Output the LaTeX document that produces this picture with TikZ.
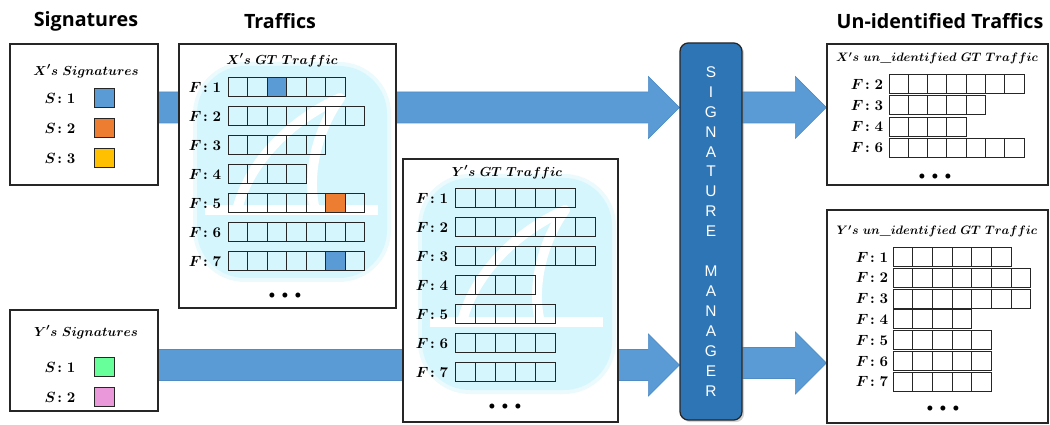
\RequirePackage{fix-cm}
\documentclass[tikz,border=0pt]{standalone}
\usepackage{amsmath,bm}
\usepackage{fontspec}
\setsansfont{Liberation Sans}
\newfontfamily\headfont{Open Sans}
\usepackage{tikz}
\usetikzlibrary{backgrounds,calc,shadows}

\definecolor{sigblue}{HTML}{5B9BD5}
\definecolor{sigorange}{HTML}{ED7D31}
\definecolor{siggold}{HTML}{FFC000}
\definecolor{siggreen}{HTML}{66FF99}
\definecolor{sigpink}{HTML}{EA98DA}
\definecolor{mgrblue}{HTML}{2E75B6}
\definecolor{flowedge}{HTML}{4F8CC6}
\definecolor{logocyan}{RGB}{214,246,253}

% fat block arrow: from node, to node, y of the shaft axis
\newcommand{\flowarrow}[3]{%
  \draw[flow] (#1.east |- 0,#3) ++(0,-15.5)
    -- ($(#2.west |- 0,#3)+(-31,-15.5)$) -- ++(0,-15.5)
    -- (#2.west |- 0,#3)
    -- ($(#2.west |- 0,#3)+(-31,31)$) -- ++(0,-15.5)
    -- ($(#1.east |- 0,#3)+(0,15.5)$) -- cycle;}

% pale shark-fin logo sitting behind a traffic table
\newcommand{\wslogo}{%
  \fill[logocyan, opacity=0.5, rounded corners=1.3cm] (418,174) rectangle (616,394);
  \fill[logocyan, rounded corners=1.2cm] (422,178) rectangle (612,390);
  \draw[fin] (565,210) .. controls (520,230) and (475,270) .. (462,322);
  \draw[fin] (565,210) .. controls (540,245) and (532,290) .. (540,322);
  \draw[fin, line width=7pt, line cap=butt] (430,322) -- (603,322);}

% three heavy dots under a table
\newcommand{\moredots}{\textbullet\kern-1.2pt\textbullet\kern-1.2pt\textbullet}

\begin{document}
\begin{tikzpicture}[x=0.025cm, y=-0.025cm,
  box/.style={draw=black!85, line width=0.9pt, fill=white},
  ttl/.style={font=\fontsize{9.3}{11}\selectfont},
  unttl/.style={font=\fontsize{8.7}{10}\selectfont},
  flab/.style={font=\fontsize{10.5}{12}\selectfont, inner sep=0pt},
  head/.style={font=\headfont\bfseries\fontsize{14}{16}\selectfont},
  cell/.style={draw=black!85, line width=0.6pt},
  sigsq/.style={draw=black!85, line width=0.6pt},
  flow/.style={fill=sigblue, draw=flowedge, line width=0.4pt},
  fin/.style={draw=white, line width=7pt, line cap=round},
  dots/.style={font=\bfseries\fontsize{12}{12}\selectfont}]

\useasboundingbox (0,0) rectangle (1050,425);

% column headings
\node[head] (hsig) at (86,21) {Signatures};
\node[head] (htr)  at (280,21) {Traffics};
\node[head] (hun)  at (940,21) {Un-identified Traffics};

% frames
\node[box, minimum width=3.7cm, minimum height=3.525cm] (xsig) at (84,114.5) {};
\node[box, minimum width=3.7cm, minimum height=2.525cm] (ysig) at (84,360.5) {};
\node[box, minimum width=5.425cm, minimum height=6.6cm] (xgt) at (287.5,176) {};
\node[box, minimum width=5.375cm, minimum height=6.575cm] (ygt) at (510.5,290.5) {};
\node[box, minimum width=5.525cm, minimum height=3.525cm] (xun) at (937.5,114.5) {};
\node[box, minimum width=5.525cm, minimum height=5.325cm] (yun) at (937.5,316.5) {};

\node[draw=black!85, line width=0.9pt, fill=mgrblue, rounded corners=6pt,
      minimum width=1.55cm, minimum height=9.425cm, text=white, align=center,
      drop shadow={opacity=0.35, shadow xshift=1.5pt, shadow yshift=-1.5pt},
      font=\sffamily\fontsize{11}{14.2}\selectfont] (mgr) at (711,231.5)
  {S\\I\\G\\N\\A\\T\\U\\R\\E\\[14.2pt]M\\A\\N\\A\\G\\E\\R};

\begin{scope}[on background layer]
  \flowarrow{xsig}{mgr}{107.5}
  \flowarrow{ysig}{mgr}{365}
  \flowarrow{mgr}{xun}{107.5}
  \flowarrow{mgr}{yun}{363}
\end{scope}

\wslogo
\begin{scope}[shift={(-225,-112)}]
  \wslogo
\end{scope}

% signature sets
\node[ttl] (xsigt) at (86,71) {$\bm{X's\ Signatures}$};
\foreach \s/\col [count=\r from 0] in {1/sigblue,2/sigorange,3/siggold}{
  \node[flab] (xs\s) at (60,98+30*\r) {$\bm{S\colon\s}$};
  \draw[sigsq, fill=\col] (94,88+30*\r) rectangle ++(20,19.5);
}
\node[ttl] (ysigt) at (86,332) {$\bm{Y's\ Signatures}$};
\foreach \s/\col [count=\r from 0] in {1/siggreen,2/sigpink}{
  \node[flab] (ys\s) at (60,367+30*\r) {$\bm{S\colon\s}$};
  \draw[sigsq, fill=\col] (94,357+30*\r) rectangle ++(20,19.5);
}

% GT traffic of X
\node[ttl] (xgtt) at (282,60) {$\bm{X's\ GT\ Traffic}$};
\foreach \f/\n [count=\r from 0] in {1/6,2/7,3/5,4/4,5/7,6/7,7/7}{
  \node[flab] (xgt\f) at (205,87+29*\r) {$\bm{F\colon\f}$};
  \foreach \c in {1,...,\n}
    \draw[cell] (208.5+19.5*\c,77.5+29*\r) rectangle ++(19.5,19);
}
\draw[cell, fill=sigblue]   (267,77.5)    rectangle ++(19.5,19);
\draw[cell, fill=sigorange] (325.5,193.5) rectangle ++(19.5,19);
\draw[cell, fill=sigblue]   (325.5,251.5) rectangle ++(19.5,19);
\node[dots] (xgtd) at (285,296) {\moredots};

% GT traffic of Y
\node[ttl] (ygtt) at (507,172) {$\bm{Y's\ GT\ Traffic}$};
\foreach \f/\n [count=\r from 0] in {1/6,2/7,3/7,4/4,5/5,6/5,7/5}{
  \node[flab] (ygt\f) at (432,198+29*\r) {$\bm{F\colon\f}$};
  \foreach \c in {1,...,\n}
    \draw[cell] (435+20*\c,188.5+29*\r) rectangle ++(20,19);
}
\node[dots] (ygtd) at (505,407) {\moredots};

% what is left un-identified
\node[unttl] (xunt) at (937,58) {$\bm{X's\ un}\text{\bfseries\_}\bm{identified\ GT\ Traffic}$};
\foreach \f/\n [count=\r from 0] in {2/7,3/5,4/4,6/7}{
  \node[flab] (xun\f) at (867,84+21.3*\r) {$\bm{F\colon\f}$};
  \foreach \c in {1,...,\n}
    \draw[cell] (869.7+19.3*\c,74.5+21.3*\r) rectangle ++(19.3,19);
}
\node[dots] (xund) at (935,177) {\moredots};

\node[unttl] (yunt) at (937,231) {$\bm{Y's\ un}\text{\bfseries\_}\bm{identified\ GT\ Traffic}$};
\foreach \f/\n [count=\r from 0] in {1/6,2/7,3/7,4/4,5/5,6/5,7/5}{
  \node[flab] (yun\f) at (872,257+20.8*\r) {$\bm{F\colon\f}$};
  \foreach \c in {1,...,\n}
    \draw[cell] (873.3+19.7*\c,247.5+20.8*\r) rectangle ++(19.7,19);
}
\node[dots] (yund) at (943,409) {\moredots};
\end{tikzpicture}
\end{document}
